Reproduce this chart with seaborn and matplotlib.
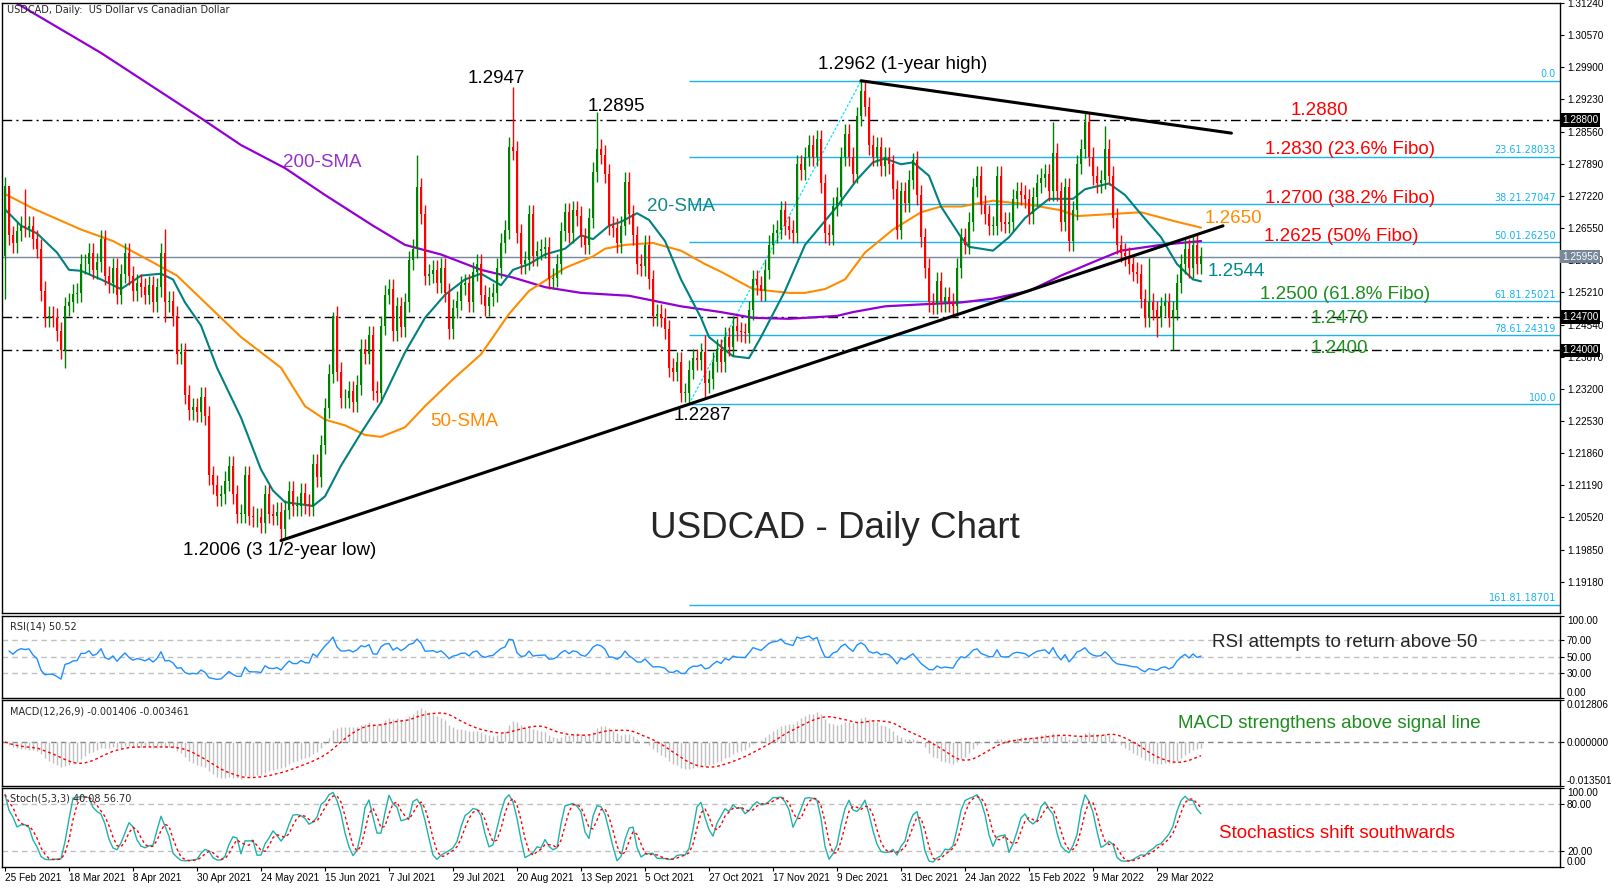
import numpy as np
import pandas as pd
import matplotlib
matplotlib.use("Agg")
import matplotlib.pyplot as plt
import matplotlib.transforms as mtransforms
import seaborn as sns

# ---------------- data ----------------
first_open = 1.2596

closes = [
    1.2742, 1.2640, 1.2624, 1.2648, 1.2660, 1.2656, 1.2660, 1.2632, 1.2612, 1.2524,
    1.2468, 1.2472, 1.2468, 1.2440, 1.2402, 1.2492, 1.2500, 1.2518, 1.2520, 1.2580,
    1.2580, 1.2604, 1.2568, 1.2584, 1.2632, 1.2556, 1.2540, 1.2572, 1.2516, 1.2560,
    1.2604, 1.2556, 1.2524, 1.2540, 1.2532, 1.2516, 1.2536, 1.2500, 1.2532, 1.2604,
    1.2500, 1.2504, 1.2472, 1.2392, 1.2396, 1.2308, 1.2276, 1.2282, 1.2272, 1.2304,
    1.2264, 1.2140, 1.2120, 1.2096, 1.2100, 1.2128, 1.2160, 1.2100, 1.2060,
    1.2060, 1.2140, 1.2056, 1.2052, 1.2052, 1.2040, 1.2100, 1.2060, 1.2056, 1.2064,
    1.2028, 1.2068, 1.2108, 1.2076, 1.2076, 1.2104, 1.2080, 1.2076, 1.2164, 1.2136,
    1.2204, 1.2280, 1.2352, 1.2472, 1.2356, 1.2300, 1.2300, 1.2316, 1.2292, 1.2328,
    1.2404, 1.2392, 1.2432, 1.2316, 1.2312, 1.2452, 1.2516, 1.2528, 1.2440, 1.2492,
    1.2448, 1.2500, 1.2588, 1.2612, 1.2740, 1.2684, 1.2556, 1.2560, 1.2568, 1.2540,
    1.2572, 1.2520, 1.2444, 1.2488, 1.2504, 1.2536, 1.2540, 1.2500, 1.2564, 1.2580,
    1.2516, 1.2492, 1.2512, 1.2520, 1.2572, 1.2624, 1.2652, 1.2824, 1.2816, 1.2644,
    1.2580, 1.2588, 1.2684, 1.2596, 1.2608, 1.2612, 1.2616, 1.2548, 1.2552, 1.2580,
    1.2648, 1.2688, 1.2644, 1.2692, 1.2680, 1.2636, 1.2620, 1.2676, 1.2772, 1.2820,
    1.2808, 1.2768, 1.2660, 1.2656, 1.2624, 1.2660, 1.2752, 1.2684, 1.2640, 1.2580,
    1.2576, 1.2620, 1.2548, 1.2472, 1.2476, 1.2468, 1.2444, 1.2364, 1.2356, 1.2376,
    1.2312, 1.2312, 1.2360, 1.2384, 1.2380, 1.2396, 1.2332, 1.2340, 1.2376, 1.2404,
    1.2376, 1.2428, 1.2408, 1.2452, 1.2440, 1.2438, 1.2436, 1.2484, 1.2548, 1.2536,
    1.2524, 1.2568, 1.2620, 1.2644, 1.2652, 1.2692, 1.2660, 1.2652, 1.2644, 1.2788,
    1.2776, 1.2804, 1.2828, 1.2804, 1.2840, 1.2748, 1.2644, 1.2640, 1.2700, 1.2720,
    1.2804, 1.2852, 1.2804, 1.2768, 1.2888, 1.2940, 1.2908, 1.2828, 1.2804, 1.2824,
    1.2784, 1.2804, 1.2788, 1.2736, 1.2652, 1.2732, 1.2708, 1.2756, 1.2796, 1.2724,
    1.2636, 1.2572, 1.2500, 1.2496, 1.2544, 1.2500, 1.2512, 1.2500, 1.2492, 1.2572,
    1.2636, 1.2620, 1.2668, 1.2740, 1.2764, 1.2704, 1.2684, 1.2660, 1.2660, 1.2764,
    1.2668, 1.2664, 1.2668, 1.2716, 1.2732, 1.2724, 1.2716, 1.2684, 1.2720, 1.2748,
    1.2760, 1.2768, 1.2732, 1.2812, 1.2732, 1.2668, 1.2740, 1.2628, 1.2692, 1.2788,
    1.2820, 1.2876, 1.2804, 1.2764, 1.2748, 1.2756, 1.2820, 1.2764, 1.2676, 1.2620,
    1.2604, 1.2596, 1.2580, 1.2564, 1.2560, 1.2508, 1.2468, 1.2500, 1.2484, 1.2468,
    1.2492, 1.2500, 1.2468, 1.2484, 1.2540, 1.2580, 1.2612, 1.2572, 1.2620, 1.2580,
    1.2596,
]

wick = 0.0020
high_marks = {1: 1.2736, 5: 1.2736, 40: 1.2654, 82: 1.2480, 103: 1.2808, 127: 1.2948,
              148: 1.2896, 175: 1.2432, 214: 1.2962, 227: 1.2812, 262: 1.2876,
              270: 1.2896, 275: 1.2868, 286: 1.2592}
low_marks = {0: 1.2508, 15: 1.2364, 40: 1.2460, 69: 1.2004, 171: 1.2288, 175: 1.2300,
             288: 1.2428, 292: 1.2400}

sma20_idx = [0, 4, 8, 13, 16, 19, 24, 29, 34, 39, 42, 45, 49, 53, 59, 64, 67, 70, 77, 80,
             84, 89, 94, 100, 105, 110, 115, 119, 124, 127, 131, 135, 140, 144, 147, 151,
             154, 158, 161, 165, 169, 174, 176, 179, 182, 186, 189, 195, 200, 204, 208,
             213, 217, 220, 224, 227, 231, 234, 239, 241, 247, 251, 255, 261, 267, 270,
             276, 280, 284, 289, 293, 297, 299]
sma20_val = [1.2694, 1.2660, 1.2644, 1.2604, 1.2568, 1.2566, 1.2548, 1.2528, 1.2556, 1.2560,
             1.2548, 1.2500, 1.2452, 1.2364, 1.2260, 1.2152, 1.2108, 1.2084, 1.2076, 1.2096,
             1.2160, 1.2228, 1.2292, 1.2396, 1.2468, 1.2516, 1.2548, 1.2560, 1.2536, 1.2568,
             1.2580, 1.2600, 1.2612, 1.2640, 1.2632, 1.2660, 1.2668, 1.2686, 1.2672, 1.2628,
             1.2548, 1.2468, 1.2428, 1.2408, 1.2388, 1.2384, 1.2428, 1.2524, 1.2620, 1.2660,
             1.2700, 1.2756, 1.2792, 1.2800, 1.2788, 1.2792, 1.2764, 1.2700, 1.2636, 1.2616,
             1.2608, 1.2636, 1.2676, 1.2716, 1.2716, 1.2736, 1.2748, 1.2724, 1.2684, 1.2636,
             1.2580, 1.2548, 1.2544]

sma50_idx = [0, 7, 19, 27, 36, 43, 50, 59, 69, 75, 80, 85, 90, 94, 100, 105, 112, 119, 126,
             131, 140, 147, 150, 155, 162, 169, 175, 179, 187, 196, 200, 205, 210, 215, 222,
             229, 234, 239, 247, 256, 264, 268, 276, 284, 293, 299]
sma50_val = [1.2726, 1.2696, 1.2652, 1.2628, 1.2588, 1.2556, 1.2500, 1.2428, 1.2364, 1.2284,
             1.2256, 1.2244, 1.2224, 1.2220, 1.2240, 1.2284, 1.2340, 1.2392, 1.2476, 1.2524,
             1.2572, 1.2596, 1.2612, 1.2620, 1.2624, 1.2608, 1.2580, 1.2564, 1.2528, 1.2520,
             1.2520, 1.2528, 1.2548, 1.2604, 1.2652, 1.2688, 1.2700, 1.2700, 1.2712, 1.2704,
             1.2692, 1.2680, 1.2684, 1.2688, 1.2668, 1.2656]

sma200_idx = [0, 2, 24, 49, 59, 70, 80, 92, 100, 109, 119, 127, 135, 144, 156, 169, 179, 187,
              196, 208, 212, 220, 229, 239, 247, 256, 264, 272, 279, 289, 299]
sma200_val = [1.3136, 1.3128, 1.3020, 1.2884, 1.2828, 1.2780, 1.2724, 1.2660, 1.2620, 1.2600,
              1.2568, 1.2552, 1.2532, 1.2520, 1.2514, 1.2492, 1.2480, 1.2468, 1.2466, 1.2472,
              1.2480, 1.2492, 1.2496, 1.2500, 1.2508, 1.2524, 1.2556, 1.2584, 1.2608, 1.2620,
              1.2628]

fib_prices = [1.29620, 1.28033, 1.27047, 1.26250, 1.25021, 1.24319, 1.22880, 1.18701]
fib_labels = ["0.0", "23.61.28033", "38.21.27047", "50.01.26250", "61.81.25021",
              "78.61.24319", "100.0", "161.81.18701"]
fib_start = 171

level_lines = [1.2880, 1.2470, 1.2400]
last_price = 1.25956

price_ticks = [1.31240, 1.30570, 1.29900, 1.29230, 1.28560, 1.27890, 1.27220, 1.26550,
               1.25880, 1.25210, 1.24540, 1.23870, 1.23200, 1.22530, 1.21860, 1.21190,
               1.20520, 1.19850, 1.19180]
date_labels = ["25 Feb 2021", "18 Mar 2021", "8 Apr 2021", "30 Apr 2021", "24 May 2021",
               "15 Jun 2021", "7 Jul 2021", "29 Jul 2021", "20 Aug 2021", "13 Sep 2021",
               "5 Oct 2021", "27 Oct 2021", "17 Nov 2021", "9 Dec 2021", "31 Dec 2021",
               "24 Jan 2022", "15 Feb 2022", "9 Mar 2022", "29 Mar 2022"]

# trendline anchors (bar index) and where they end
up_anchor = (69, 171)
down_anchor = (214, 270)
up_end, down_end = 304.5, 306.6

# ---------------- derived series ----------------
c = np.array(closes)
n = len(c)
x = np.arange(n)
o = np.r_[first_open, c[:-1]]
hi = np.maximum(o, c) + wick
lo = np.minimum(o, c) - wick
for k, v in high_marks.items():
    hi[k] = v
for k, v in low_marks.items():
    lo[k] = v

s = pd.Series(c)
# indicators seeded with the first open as the prior close
s_ext = pd.Series(np.r_[first_open, c])
delta = s_ext.diff()
g = delta.clip(lower=0).ewm(alpha=1 / 14, adjust=True).mean()
l = (-delta.clip(upper=0)).ewm(alpha=1 / 14, adjust=True).mean()
rsi = (100 - 100 / (1 + g / l)).iloc[1:].reset_index(drop=True)
rsi.iloc[0] = np.nan  # no loss history yet on the first bar

macd = s.ewm(span=12, adjust=False).mean() - s.ewm(span=26, adjust=False).mean()
signal = macd.rolling(9, min_periods=1).mean()

hh = pd.Series(hi).rolling(5, min_periods=1).max()
ll = pd.Series(lo).rolling(5, min_periods=1).min()
stk = 100 * (s - ll).rolling(3, min_periods=1).sum() / (hh - ll).rolling(3, min_periods=1).sum()
std = stk.rolling(3, min_periods=1).mean()

# ---------------- figure ----------------
sns.set_style("white")
plt.rcParams['font.family'] = ['Liberation Sans', 'DejaVu Sans']

fig = plt.figure(figsize=(16.12, 8.88), dpi=100)
L, W = 2 / 1612, 1558 / 1612


def panel(top, bot):
    return fig.add_axes([L, 1 - bot / 888, W, (bot - top) / 888])


ax = panel(3, 613)
ax_rsi = panel(615.7, 698)
ax_macd = panel(700.3, 786)
ax_st = panel(788.3, 867)

XL = (-0.75, 388.75)
for a in (ax, ax_rsi, ax_macd, ax_st):
    a.set_xlim(*XL)
    for sp in a.spines.values():
        sp.set_color("black")
        sp.set_linewidth(1)
    a.tick_params(axis="y", left=False, right=True, labelleft=False, labelright=True,
                  direction="out", length=3, width=0.8, labelsize=7.2, pad=2, colors="black")
    a.tick_params(axis="x", bottom=False, labelbottom=False)

# ---- main panel ----
ax.set_ylim(1.1853, 1.3124)
ax.set_yticks(price_ticks)
ax.set_yticklabels(["%.5f" % v for v in price_ticks])

fib_col = "#18B4EE"
for p, lab in zip(fib_prices, fib_labels):
    ax.hlines(p, fib_start, XL[1], color=fib_col, lw=1, zorder=1)
    ax.text(XL[1] - 1, p + 0.0003, lab, color=fib_col, fontsize=7, ha="right", va="bottom",
            family="DejaVu Sans")
ax.plot([fib_start, down_anchor[0]], [lo[fib_start], hi[down_anchor[0]]], color="#00E5FF",
        lw=0.9, ls=(0, (2, 1.5)), zorder=1)

ax.axhline(last_price, color="#778899", lw=1, zorder=1)
for p in level_lines:
    ax.axhline(p, color="black", lw=1, ls=(0, (7, 3, 1.5, 3)), zorder=1)

sns.lineplot(x=sma200_idx, y=sma200_val, ax=ax, color="#9400D3", lw=1.6, zorder=2)
sns.lineplot(x=sma50_idx, y=sma50_val, ax=ax, color="#FF8C00", lw=1.5, zorder=2)
sns.lineplot(x=sma20_idx, y=sma20_val, ax=ax, color="#008080", lw=1.5, zorder=2)

cols = np.where(c >= o, "#008000", "#FF0000")
ax.vlines(x, lo, hi, colors=cols, lw=1, zorder=3)
ax.bar(x, np.maximum(np.abs(c - o), 0.00012), bottom=np.minimum(o, c), width=0.7,
       color=cols, linewidth=0, zorder=3)

# trendlines
i0, i1 = up_anchor
slope = (lo[i1] - lo[i0]) / (i1 - i0)
ax.plot([i0, up_end], [lo[i0], lo[i0] + slope * (up_end - i0)], color="black", lw=2.2, zorder=4)
j0, j1 = down_anchor
slope = (hi[j1] - hi[j0]) / (j1 - j0)
ax.plot([j0, down_end], [hi[j0], hi[j0] + slope * (down_end - j0)], color="black", lw=2.2, zorder=4)

# right-axis price boxes
trans = mtransforms.blended_transform_factory(ax.transAxes, ax.transData)
for p, bg in [(1.2880, "black"), (last_price, "#778899"), (1.2470, "black"), (1.2400, "black")]:
    ax.text(1.0012, p, "%.5f" % p, transform=trans, ha="left", va="center", fontsize=7.2,
            color="white", bbox=dict(boxstyle="square,pad=0.18", fc=bg, ec="none"),
            clip_on=False, zorder=10)

ax.text(0.003, 0.997, "USDCAD, Daily:  US Dollar vs Canadian Dollar", transform=ax.transAxes,
        fontsize=7, ha="left", va="top", family="DejaVu Sans")

notes = [
    ("1.2947", 122.9, 1.2966, "black"),
    ("1.2895", 152.9, 1.2908, "black"),
    ("1.2962 (1-year high)", 224.4, 1.2996, "black"),
    ("1.2880", 328.7, 1.2901, "#FF0000"),
    ("1.2830 (23.6% Fibo)", 336.2, 1.2818, "#FF0000"),
    ("1.2700 (38.2% Fibo)", 336.2, 1.2717, "#FF0000"),
    ("1.2650", 307.1, 1.2675, "#FF8C00"),
    ("1.2625 (50% Fibo)", 334.1, 1.2638, "#FF0000"),
    ("1.2544", 307.9, 1.2565, "#008B8B"),
    ("1.2500 (61.8% Fibo)", 334.9, 1.2516, "#1E8C1E"),
    ("1.2470", 333.6, 1.2467, "#1E8C1E"),
    ("1.2400", 333.6, 1.2405, "#1E8C1E"),
    ("1.2287", 174.3, 1.2264, "black"),
    ("50-SMA", 114.9, 1.2253, "#FF8C00"),
    ("200-SMA", 79.2, 1.2792, "#9932CC"),
    ("20-SMA", 168.9, 1.2700, "#138888"),
    ("1.2006 (3 1/2-year low)", 68.7, 1.1983, "black"),
]
for txt, tx, ty, col in notes:
    ax.text(tx, ty, txt, color=col, fontsize=13.5, ha="center", va="center", zorder=6)
ax.text(207.4, 1.2030, "USDCAD - Daily Chart", fontsize=26.5, ha="center", va="center", zorder=6)

# ---- RSI ----
ax_rsi.set_ylim(0, 100)
for v in (70, 50, 30):
    ax_rsi.axhline(v, color="#C0C0C0", lw=1, ls=(0, (4, 3)))
sns.lineplot(x=x, y=rsi.values, ax=ax_rsi, color="#1E90FF", lw=1)
ax_rsi.set_yticks([100, 70, 50, 30, 0])
ax_rsi.set_yticklabels(["100.00", "70.00", "50.00", "30.00", "0.00"])
ax_rsi.text(0.005, 0.93, "RSI(14) 50.52", transform=ax_rsi.transAxes, fontsize=7, va="top",
            family="DejaVu Sans")
ax_rsi.text(334.9, 67, "RSI attempts to return above 50", fontsize=13.5, ha="center", va="center")

# ---- MACD ----
ax_macd.set_ylim(-0.013501, 0.012806)
ax_macd.axhline(0, color="#808080", lw=1, ls=(0, (4, 3)))
ax_macd.vlines(x, 0, macd.values, colors="#C0C0C0", lw=1)
sns.lineplot(x=x, y=signal.values, ax=ax_macd, color="#FF0000", lw=1, ls=(0, (2, 2)))
ax_macd.set_yticks([0.012806, 0.0, -0.013501])
ax_macd.set_yticklabels(["0.012806", "0.000000", "-0.013501"])
ax_macd.text(0.005, 0.93, "MACD(12,26,9) -0.001406 -0.003461", transform=ax_macd.transAxes,
             fontsize=7, va="top", family="DejaVu Sans")
ax_macd.text(331, 0.0056, "MACD strengthens above signal line", fontsize=13.5, color="#1E8C1E",
             ha="center", va="center")

# ---- Stochastic ----
ax_st.set_ylim(0, 100)
for v in (80, 20):
    ax_st.axhline(v, color="#C0C0C0", lw=1, ls=(0, (4, 3)))
sns.lineplot(x=x, y=stk.values, ax=ax_st, color="#20B2AA", lw=1)
sns.lineplot(x=x, y=std.values, ax=ax_st, color="#FF0000", lw=1, ls=(0, (2, 2)))
ax_st.set_yticks([100, 80, 20, 0])
ax_st.set_yticklabels(["100.00", "80.00", "20.00", "0.00"])
ax_st.text(0.005, 0.93, "Stoch(5,3,3) 40.08 56.70", transform=ax_st.transAxes, fontsize=7,
           va="top", family="DejaVu Sans")
ax_st.text(332.9, 42, "Stochastics shift southwards", fontsize=13.5, color="#FF0000",
           ha="center", va="center")

ax_st.set_xticks(np.arange(0, 16 * len(date_labels), 16))
ax_st.set_xticklabels(date_labels, ha="left")
ax_st.tick_params(axis="x", bottom=True, labelbottom=True, direction="out", length=3,
                  width=0.8, labelsize=7.2, pad=1, colors="black")

for a in (ax, ax_rsi, ax_macd, ax_st):
    a.set_xlabel("")
    a.set_ylabel("")
    labs = a.get_yticklabels()
    if a is not ax:
        labs[0].set_verticalalignment("top")
        labs[-1].set_verticalalignment("bottom")

fig.savefig("out.png", dpi=100)
